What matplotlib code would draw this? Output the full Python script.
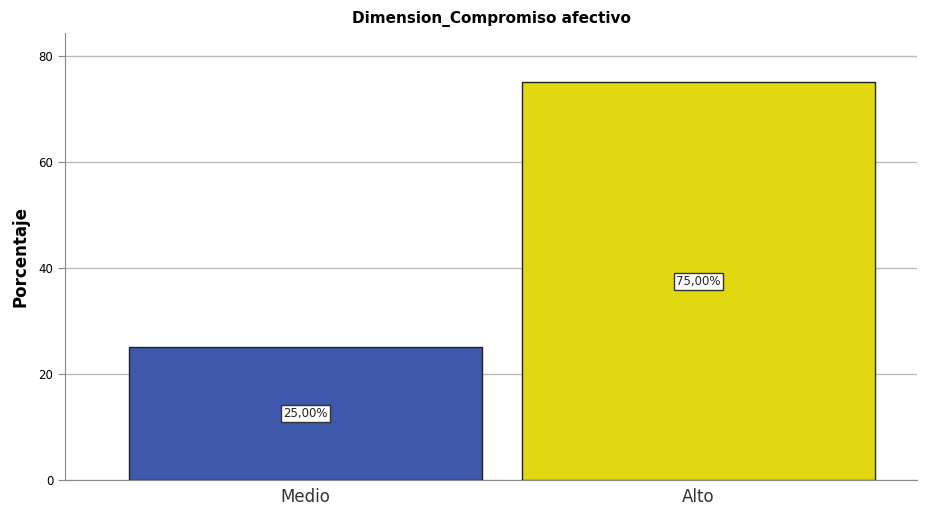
import matplotlib
matplotlib.use("Agg")
import matplotlib.pyplot as plt

categorias = ["Medio", "Alto"]
porcentajes = [25.0, 75.0]
colores = ["#3e58ab", "#e1d810"]
etiquetas = ["25,00%", "75,00%"]
yticks = [0, 20, 40, 60, 80]

fig = plt.figure(figsize=(9.32, 5.09), dpi=100)
ax = fig.add_axes([65/932, 29/509, 852/932, 447/509])

x = range(len(categorias))
ax.bar(x, porcentajes, width=0.9, color=colores, edgecolor="#222222", linewidth=1, zorder=3)
for i, (v, t) in enumerate(zip(porcentajes, etiquetas)):
    ax.text(i, v / 2, t, ha="center", va="center", fontsize=8.5, color="#222222", zorder=4,
            bbox=dict(boxstyle="square,pad=0.18", facecolor="white", edgecolor="#333333", linewidth=1))

ax.set_xlim(-0.612, 1.556)
ax.set_ylim(0, 84.3)
ax.set_yticks(yticks)
ax.set_xticks(list(x))
ax.set_xticklabels(categorias, fontsize=12, color="#333333")
ax.tick_params(axis="y", labelsize=8.5, length=5, color="#888888")
ax.tick_params(axis="x", length=0, pad=6)
ax.yaxis.grid(True, color="#bbbbbb", linewidth=1, zorder=0)
ax.set_axisbelow(True)
for s in ["top", "right"]:
    ax.spines[s].set_visible(False)
ax.spines["left"].set_color("#888888")
ax.spines["bottom"].set_color("#888888")
ax.set_ylabel("Porcentaje", fontsize=12, fontweight="bold", labelpad=6)
ax.set_title("Dimension_Compromiso afectivo", fontsize=11, fontweight="bold", pad=7)

fig.savefig("out.png", dpi=100)
